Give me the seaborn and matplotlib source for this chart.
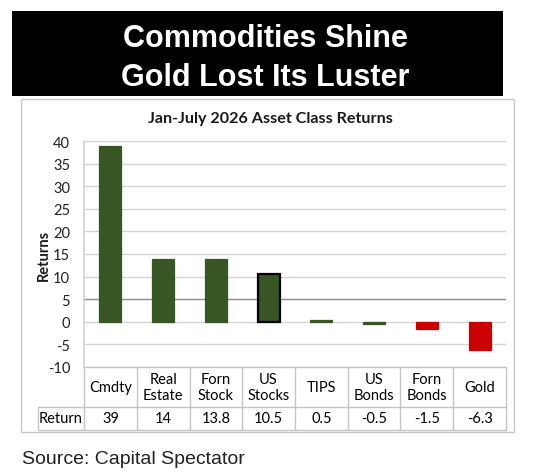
import numpy as np
import pandas as pd
import matplotlib
matplotlib.use("Agg")
import matplotlib.pyplot as plt
from matplotlib.patches import Rectangle
import seaborn as sns


# DATA
CATEGORIES = ["Cmdty", "Real Estate", "Forn Stock", "US Stocks",
              "TIPS", "US Bonds", "Forn Bonds", "Gold"]
HEADER_LABELS = ["Cmdty", "Real\nEstate", "Forn\nStock", "US\nStocks",
                 "TIPS", "US\nBonds", "Forn\nBonds", "Gold"]
RETURNS = [39, 14, 13.8, 10.5, 0.5, -0.5, -1.5, -6.3]
Y_TICKS = [-10, -5, 0, 5, 10, 15, 20, 25, 30, 35, 40]

BANNER = "Commodities Shine\nGold Lost Its Luster"
CHART_TITLE = "Jan-July 2026 Asset Class Returns"
SOURCE = "Source: Capital Spectator"

GREEN = "#375623"
RED = "#cc0000"
GRID = "#d4d4d4"
W, H = 533, 477
CHART_FONT = ["Lato", "DejaVu Sans"]


def fx(px):
    return px / W


def fy(py):
    return 1 - py / H


def main():
    sns.set_theme(style="white")
    plt.rcParams["font.family"] = CHART_FONT

    df = pd.DataFrame({"Asset": CATEGORIES, "Return": RETURNS})
    colors = [GREEN] * 6 + [RED] * 2

    fig = plt.figure(figsize=(W / 100, H / 100), dpi=100)
    fig.patch.set_facecolor("white")

    # black banner
    fig.patches.append(Rectangle((fx(12), fy(97)), fx(503) - fx(12), fy(12) - fy(97),
                                 transform=fig.transFigure, facecolor="black",
                                 edgecolor="none", zorder=-2))
    fig.text(fx(265), fy(58.5), BANNER, color="white", ha="center", va="center",
             fontsize=22, fontweight="bold", family=["Liberation Sans"],
             linespacing=1.36)

    # chart frame
    fig.patches.append(Rectangle((fx(21), fy(433)), fx(514) - fx(21), fy(100) - fy(433),
                                 transform=fig.transFigure, facecolor="white",
                                 edgecolor="#c8c8c8", linewidth=1, zorder=-2))
    fig.text(fx(270), fy(119), CHART_TITLE, ha="center", va="center",
             fontsize=11.6, fontweight="bold", color="#1a1a1a")

    # bar plot
    ax = fig.add_axes([fx(84), fy(368), fx(506) - fx(84), fy(142) - fy(368)])
    sns.barplot(data=df, x="Asset", y="Return", hue="Asset", palette=colors,
                legend=False, width=0.42, saturation=1, ax=ax, zorder=3)
    for bar, c in zip(ax.patches, colors):
        bar.set_edgecolor(c)
        bar.set_linewidth(0.9)
    us_bar = ax.patches[CATEGORIES.index("US Stocks")]
    us_bar.set_edgecolor("black")
    us_bar.set_linewidth(1.6)

    ax.set_ylim(-10, 40)
    ax.set_xlim(-0.5, len(CATEGORIES) - 0.5)
    ax.set_yticks(Y_TICKS)
    ax.set_yticklabels([str(t) for t in Y_TICKS], fontsize=10.5, color="#222222")
    ax.set_xticks([])
    ax.set_xlabel("")
    ax.set_ylabel("Returns", fontsize=10.5, fontweight="bold", color="#1a1a1a",
                  labelpad=-2)
    ax.yaxis.grid(True, color=GRID, linewidth=1)
    ax.set_axisbelow(True)
    ax.tick_params(axis="y", length=0, pad=10)
    for tick, line in zip(Y_TICKS, ax.get_ygridlines()):
        if tick == 5:
            line.set_color("#8c8c8c")
    for side in ["top", "right", "bottom"]:
        ax.spines[side].set_visible(False)
    ax.spines["left"].set_color(GRID)
    ax.set_facecolor("none")

    # data table under the plot
    tax = fig.add_axes([fx(38), fy(431), fx(506) - fx(38), fy(368) - fy(431)])
    x_left = -0.5 - (84 - 38) / ((506 - 84) / len(CATEGORIES))
    tax.set_xlim(x_left, len(CATEGORIES) - 0.5)
    tax.set_ylim(0, 1)
    tax.axis("off")
    split = 23 / 63
    n = len(CATEGORIES)
    lc = "#c4c4c4"
    tax.plot([-0.5, n - 0.5], [1, 1], color=lc, lw=1, clip_on=False)
    tax.plot([x_left, n - 0.5], [split, split], color=lc, lw=1, clip_on=False)
    tax.plot([x_left, n - 0.5], [0, 0], color=lc, lw=1, clip_on=False)
    for b in np.arange(-0.5, n, 1.0):
        tax.plot([b, b], [0, 1], color=lc, lw=1, clip_on=False)
    tax.plot([x_left, x_left], [0, split], color=lc, lw=1, clip_on=False)

    for i, (lab, val) in enumerate(zip(HEADER_LABELS, RETURNS)):
        tax.text(i, (1 + split) / 2, lab, ha="center", va="center",
                 fontsize=10.5, color="#000000", linespacing=1.15)
        tax.text(i, split / 2, f"{val:g}", ha="center", va="center",
                 fontsize=10.5, color="#000000")
    tax.text((x_left - 0.5) / 2, split / 2, "Return", ha="center", va="center",
             fontsize=10.5, color="#000000")

    fig.text(fx(22), fy(460), SOURCE, ha="left", va="center", fontsize=14,
             family=["Liberation Sans"], color="#222222")

    fig.savefig("out.png", dpi=100, facecolor="white")


if __name__ == "__main__":
    main()
